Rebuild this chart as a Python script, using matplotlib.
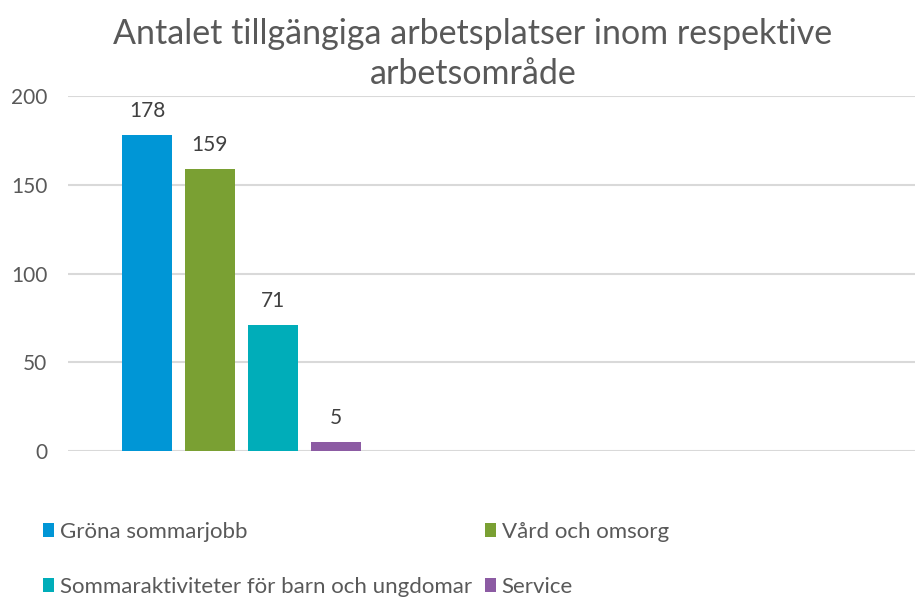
import matplotlib
matplotlib.use("Agg")
import matplotlib.pyplot as plt

plt.rcParams['font.family'] = ['Lato', 'DejaVu Sans']

title = "Antalet tillgängiga arbetsplatser inom respektive\narbetsområde"
categories = ["Gröna sommarjobb", "Vård och omsorg",
              "Sommaraktiviteter för barn och ungdomar", "Service"]
values = [178, 159, 71, 5]
colors = ["#0096D6", "#7AA033", "#00ADB9", "#8C5BA3"]
yticks = [0, 50, 100, 150, 200]

fig = plt.figure(figsize=(9.16, 5.99), dpi=100)
ax = fig.add_axes([68/916, 1-451/599, (915-68)/916, (451-96)/599])

bars = []
for i, (c, v, col) in enumerate(zip(categories, values, colors)):
    b = ax.bar(i, v, width=0.79, color=col, label=c, zorder=3)
    bars.append(b)
    ax.text(i, v + 8, str(v), ha='center', va='bottom', fontsize=15, color='#404040')

ax.set_xlim(-1.254, 12.2)
ax.set_ylim(0, 200)
ax.set_yticks(yticks)
ax.set_xticks([])
ax.yaxis.grid(True, color='#d9d9d9', linewidth=1.5, zorder=0)
for s in ax.spines.values():
    s.set_visible(False)
ax.tick_params(axis='y', length=0, labelsize=15, labelcolor='#595959', pad=15)

fig.text(473/916, 1-54/599, title, ha='center', va='center', fontsize=24.5,
         color='#595959', linespacing=1.3)

# row-wise order for a 2-column legend (matplotlib fills column-wise)
order = [0, 2, 1, 3]
leg = fig.legend(handles=[bars[k][0] for k in order],
                 labels=[categories[k] for k in order], ncol=2,
                 loc='upper left', bbox_to_anchor=(43/916, 1-522/599),
                 frameon=False, fontsize=16, handlelength=0.5, handleheight=0.55,
                 handletextpad=0.25, labelspacing=1.56, columnspacing=0.6,
                 borderpad=0, borderaxespad=0)
for t in leg.get_texts():
    t.set_color('#595959')

fig.savefig("out.png", dpi=100)
